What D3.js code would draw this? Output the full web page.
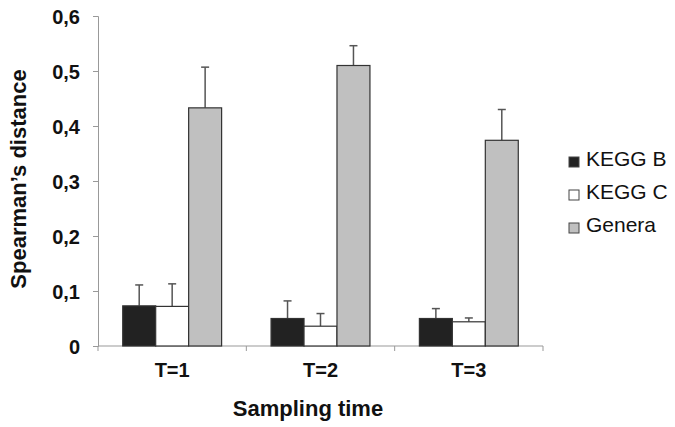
<!DOCTYPE html>
<html><head><meta charset="utf-8">
<script src="https://cdn.jsdelivr.net/npm/d3@7"></script>
<style>body{margin:0;background:#fff}svg{display:block}</style>
</head><body>
<svg id="c" width="675" height="427"></svg>
<script>
const categories = ["T=1", "T=2", "T=3"];
const seriesNames = ["KEGG B", "KEGG C", "Genera"];
const keggB = [0.073, 0.050, 0.050];
const keggBErr = [0.038, 0.032, 0.018];
const keggC = [0.072, 0.036, 0.044];
const keggCErr = [0.041, 0.023, 0.007];
const genera = [0.433, 0.510, 0.374];
const generaErr = [0.074, 0.036, 0.056];
const yTicks = [0, 0.1, 0.2, 0.3, 0.4, 0.5, 0.6];
const yTickLabels = ["0", "0,1", "0,2", "0,3", "0,4", "0,5", "0,6"];
const fills = ["#222222", "#ffffff", "#c0c0c0"];

const values = [keggB, keggC, genera];
const errs = [keggBErr, keggCErr, generaErr];

const svg = d3.select("#c");
const mLeft = 98, mRight = 543, mTop = 16, mBottom = 346;
const font = "Arial, 'Liberation Sans', sans-serif";

const x = d3.scaleBand().domain(categories).range([mLeft, mRight]);
const xs = d3.scaleBand().domain(seriesNames).range([0, x.bandwidth()]).paddingOuter(0.75).paddingInner(0);
const y = d3.scaleLinear().domain([0, 0.6]).range([mBottom, mTop]);

// axes
const yAxis = d3.axisLeft(y).tickValues(yTicks).tickSize(5).tickFormat((d, i) => yTickLabels[i]);
const gy = svg.append("g").attr("transform", `translate(${mLeft},0)`).call(yAxis);
gy.select(".domain").attr("stroke", "#999");
gy.selectAll(".tick line").attr("stroke", "#999");
gy.selectAll(".tick text").attr("font-family", font).attr("font-weight", "bold").attr("font-size", 20).attr("fill", "#111").attr("x", -18).attr("dy", "0.36em");

const gx = svg.append("g").attr("transform", `translate(0,${mBottom})`);
gx.append("line").attr("x1", mLeft).attr("x2", mRight).attr("stroke", "#999");
const bounds = [mLeft, ...categories.map(c => x(c) + x.bandwidth())];
gx.selectAll("line.t").data(bounds).join("line").attr("class", "t")
  .attr("x1", d => d).attr("x2", d => d).attr("y1", 0).attr("y2", 5).attr("stroke", "#999");
gx.selectAll("text").data(categories).join("text")
  .attr("x", d => x(d) + x.bandwidth() / 2).attr("y", 31)
  .attr("text-anchor", "middle").attr("font-family", font).attr("font-weight", "bold").attr("font-size", 20).attr("fill", "#111")
  .text(d => d);

// bars
seriesNames.forEach((s, si) => {
  const g = svg.append("g");
  categories.forEach((c, ci) => {
    const bx = x(c) + xs(s);
    const w = xs.bandwidth();
    const v = values[si][ci];
    const e = errs[si][ci];
    const cx = bx + w / 2;
    g.append("line").attr("x1", cx).attr("x2", cx).attr("y1", y(v)).attr("y2", y(v + e)).attr("stroke", "#555").attr("stroke-width", 1.5);
    g.append("line").attr("x1", cx - 4).attr("x2", cx + 4).attr("y1", y(v + e)).attr("y2", y(v + e)).attr("stroke", "#555").attr("stroke-width", 1.5);
    g.append("rect").attr("x", bx).attr("y", y(v)).attr("width", w).attr("height", y(0) - y(v))
      .attr("fill", fills[si]).attr("stroke", "#333").attr("stroke-width", 1.2);
  });
});

// legend
const lg = svg.append("g");
seriesNames.forEach((s, i) => {
  const ly = 162 + i * 33;
  lg.append("rect").attr("x", 569).attr("y", ly - 5).attr("width", 10).attr("height", 10)
    .attr("fill", fills[i]).attr("stroke", "#444").attr("stroke-width", 1);
  lg.append("text").attr("x", 586).attr("y", ly + 4).attr("font-family", font).attr("font-size", 21).attr("fill", "#111").text(s);
});

// titles
svg.append("text").attr("x", 308).attr("y", 416).attr("text-anchor", "middle")
  .attr("font-family", font).attr("font-weight", "bold").attr("font-size", 22).attr("fill", "#111").text("Sampling time");
svg.append("text").attr("transform", "translate(26,179) rotate(-90)").attr("text-anchor", "middle")
  .attr("font-family", font).attr("font-weight", "bold").attr("font-size", 22).attr("fill", "#111").text("Spearman\u2019s distance");
</script>
</body></html>
